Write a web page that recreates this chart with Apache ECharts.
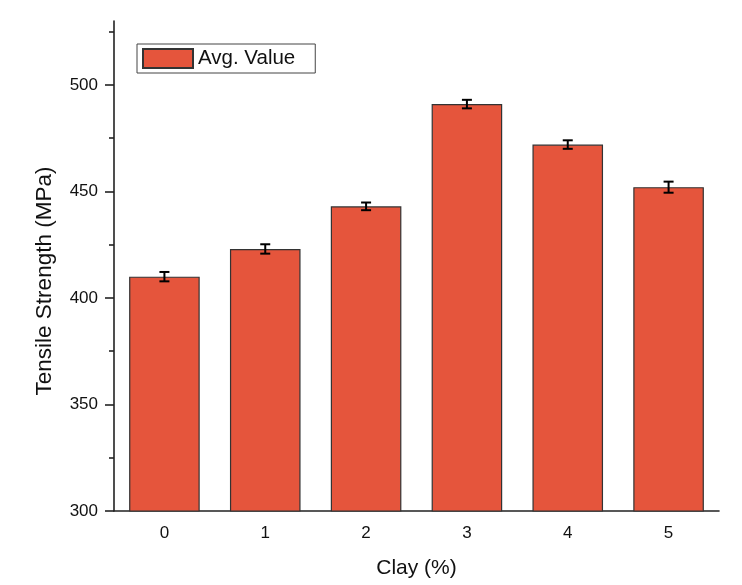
<!DOCTYPE html>
<html>
<head>
<meta charset="utf-8">
<script src="https://cdn.jsdelivr.net/npm/echarts@6/dist/echarts.min.js"></script>
<style>
  html, body { margin: 0; padding: 0; background: #fff; }
  #main { width: 742px; height: 585px; }
</style>
</head>
<body>
<div id="main"></div>
<script>
// data
var clay = ['0', '1', '2', '3', '4', '5'];
var avgValue = [410, 423, 443, 491, 472, 452];
var errValue = [2.2, 2.2, 1.8, 2, 2, 2.6];
var majorTicks = [300, 350, 400, 450, 500];
var minorTicks = [325, 375, 425, 475, 525];

var errData = avgValue.map(function (v, i) {
  return [i, v - errValue[i], v + errValue[i]];
});

var myChart = echarts.init(document.getElementById('main'));

var option = {
  backgroundColor: '#fff',
  animation: false,
  textStyle: { fontFamily: 'Liberation Sans, Arial, sans-serif' },
  legend: {
    left: 137,
    top: 44,
    data: ['Avg. Value'],
    icon: 'rect',
    itemWidth: 50,
    itemHeight: 19,
    padding: [4, 20, 4, 5],
    borderColor: '#444',
    borderWidth: 1,
    borderRadius: 0,
    textStyle: { fontSize: 20.5, color: '#111' }
  },
  grid: { left: 114, right: 23, top: 21, bottom: 74 },
  xAxis: {
    type: 'category',
    data: clay,
    name: 'Clay (%)',
    nameLocation: 'middle',
    nameGap: 47,
    nameTextStyle: { fontSize: 21, color: '#111' },
    axisLine: { lineStyle: { color: '#222', width: 1.6 } },
    axisTick: { alignWithLabel: true, inside: false, length: 9, lineStyle: { color: '#222', width: 1.6 } },
    axisLabel: { fontSize: 17, color: '#111', margin: 14 }
  },
  yAxis: [{
    type: 'value',
    min: 300,
    max: 530,
    name: 'Tensile Strength (MPa)',
    nameLocation: 'middle',
    nameGap: 58,
    nameTextStyle: { fontSize: 22.5, color: '#111', padding: [0, 30, 0, 0] },
    splitLine: { show: false },
    axisLine: { show: true, lineStyle: { color: '#222', width: 1.6 } },
    axisTick: { show: true, length: 9, customValues: majorTicks, lineStyle: { color: '#222', width: 1.6 } },
    axisLabel: { fontSize: 17, color: '#111', margin: 16, customValues: majorTicks }
  }, {
    type: 'value',
    min: 300,
    max: 530,
    position: 'left',
    splitLine: { show: false },
    axisLine: { show: false },
    axisTick: { show: true, length: 5, customValues: minorTicks, lineStyle: { color: '#222', width: 1.6 } },
    axisLabel: { show: false }
  }],
  series: [{
    name: 'Avg. Value',
    type: 'bar',
    data: avgValue,
    barWidth: '70%',
    itemStyle: { color: '#E5553C', borderColor: '#333', borderWidth: 1.2 }
  }, {
    name: 'err',
    type: 'custom',
    data: errData,
    z: 10,
    renderItem: function (params, api) {
      var x = api.value(0);
      var lo = api.coord([x, api.value(1)]);
      var hi = api.coord([x, api.value(2)]);
      var w = 5;
      var st = { stroke: '#000', lineWidth: 2 };
      return {
        type: 'group',
        children: [
          { type: 'line', shape: { x1: hi[0], y1: hi[1], x2: lo[0], y2: lo[1] }, style: st },
          { type: 'line', shape: { x1: hi[0] - w, y1: hi[1], x2: hi[0] + w, y2: hi[1] }, style: st },
          { type: 'line', shape: { x1: lo[0] - w, y1: lo[1], x2: lo[0] + w, y2: lo[1] }, style: st }
        ]
      };
    }
  }]
};

myChart.setOption(option);
window.addEventListener('resize', function () { myChart.resize(); });
</script>
</body>
</html>
